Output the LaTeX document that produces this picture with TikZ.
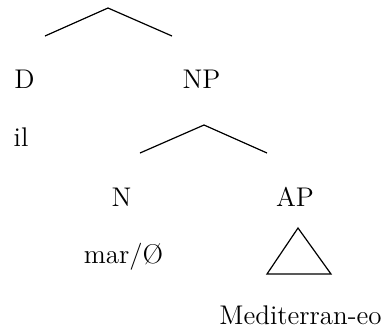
\documentclass[tikz,border=0pt]{standalone}
\usepackage{fontspec}
\usetikzlibrary{positioning}
\tikzstyle{branch}=[line width=0.6pt, line join=miter]

\begin{document}
\begin{tikzpicture}[x=0.5pt,y=-0.5pt,cat/.style={inner sep=0pt,anchor=base,font=\fontsize{13.5}{16}\selectfont},
          word/.style={cat},thick]
        \useasboundingbox (0,0) rectangle (382,329);
        % categories and words
        \node [cat] (d) at (24.5,88) {D};
        \node [cat] (np) at (201.5,88) {NP};
        \node [word] (il) at (21,146) {il};
        \node [cat] (n) at (121.5,206) {N};
        \node [cat] (ap) at (295,206) {AP};
        \node [word] (mar) at (123.5,263) {mar/Ø};
        \node [word] (med) at (300.5,324) {Mediterran-eo};
        % branches
        \coordinate (dp top) at (108,8);
        \coordinate (dp left) at (45,36);
        \coordinate (dp right) at (172,36);
        \coordinate (np top) at (204,125);
        \coordinate (np left) at (140,153);
        \coordinate (np right) at (267,153);
        \coordinate (ap top) at (298,228);
        \coordinate (ap left) at (267,274);
        \coordinate (ap right) at (331,274);
        \draw [branch] (dp left) -- (dp top) -- (dp right);
        \draw [branch] (np left) -- (np top) -- (np right);
        \draw [branch] (ap top) -- (ap left) -- (ap right) -- cycle;
      \end{tikzpicture}
\end{document}
